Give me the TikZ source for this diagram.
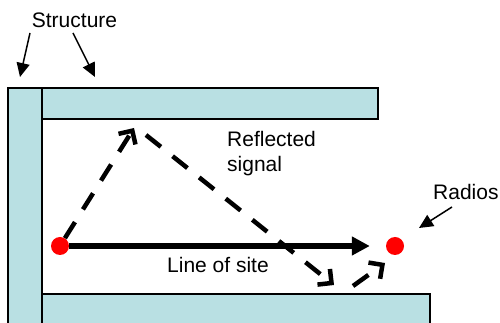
\documentclass[tikz,border=0pt]{standalone}
\usepackage{fontspec}
\setmainfont{Liberation Sans}
\usetikzlibrary{arrows.meta}
\definecolor{wallfill}{RGB}{185,224,227}

\begin{document}
\begin{tikzpicture}[x=1pt,y=1pt,
    wall/.style={draw=black,line width=1.5pt,fill=wallfill},
    radio/.style={circle,fill=red,minimum size=18pt,inner sep=0pt},
    lbl/.style={font=\fontsize{21}{25}\selectfont,inner sep=0pt},
    los/.style={line width=6pt,-{Triangle[length=18pt,width=18pt]}},
    refl/.style={line width=4.5pt,dash pattern=on 19pt off 15pt,-{Straight Barb[length=10pt,width=20pt]}},
    pointer/.style={line width=1.5pt,-{Triangle[length=14pt,width=13pt]}}]
       \useasboundingbox (0,0) rectangle (500,323);
       % walls
       \draw [wall] (8,-5) rectangle (42,235);
       \draw [wall] (42,204) rectangle (378,235);
       \draw [wall] (42,-5) rectangle (430,29);
       % radios and labels
       \node [radio] (tx) at (60,77) {};
       \node [radio] (rx) at (395,77) {};
       \node [lbl,anchor=base] (struct) at (74.5,295) {Structure};
       \node [lbl,anchor=north west,align=left] (refltext) at (227,192) {Reflected\\signal};
       \node [lbl,anchor=base] (lostext) at (218,50) {Line of site};
       \node [lbl,anchor=base west] (radiotext) at (433,123) {Radios};
       % arrow ends
       \coordinate (s1) at (30,290);
       \coordinate (w1) at (20,246);
       \coordinate (s2) at (73,290);
       \coordinate (w2) at (95,246);
       \coordinate (p0) at (452,116);
       \coordinate (p1) at (419,95);
       \coordinate (t1) at (134,195);
       \coordinate (t2) at (146,188);
       \coordinate (b1) at (334,38);
       \coordinate (b2) at (353,37);
       \coordinate (r1) at (385,60);
       \draw [pointer] (s1) -- (w1);
       \draw [pointer] (s2) -- (w2);
       \draw [pointer] (p0) -- (p1);
       \draw [los,shorten >=16pt] (tx) -- (rx);
       \draw [refl] (tx) -- (t1);
       \draw [refl] (t2) -- (b1);
       \draw [refl] (b2) -- (r1);
     \end{tikzpicture}
\end{document}
